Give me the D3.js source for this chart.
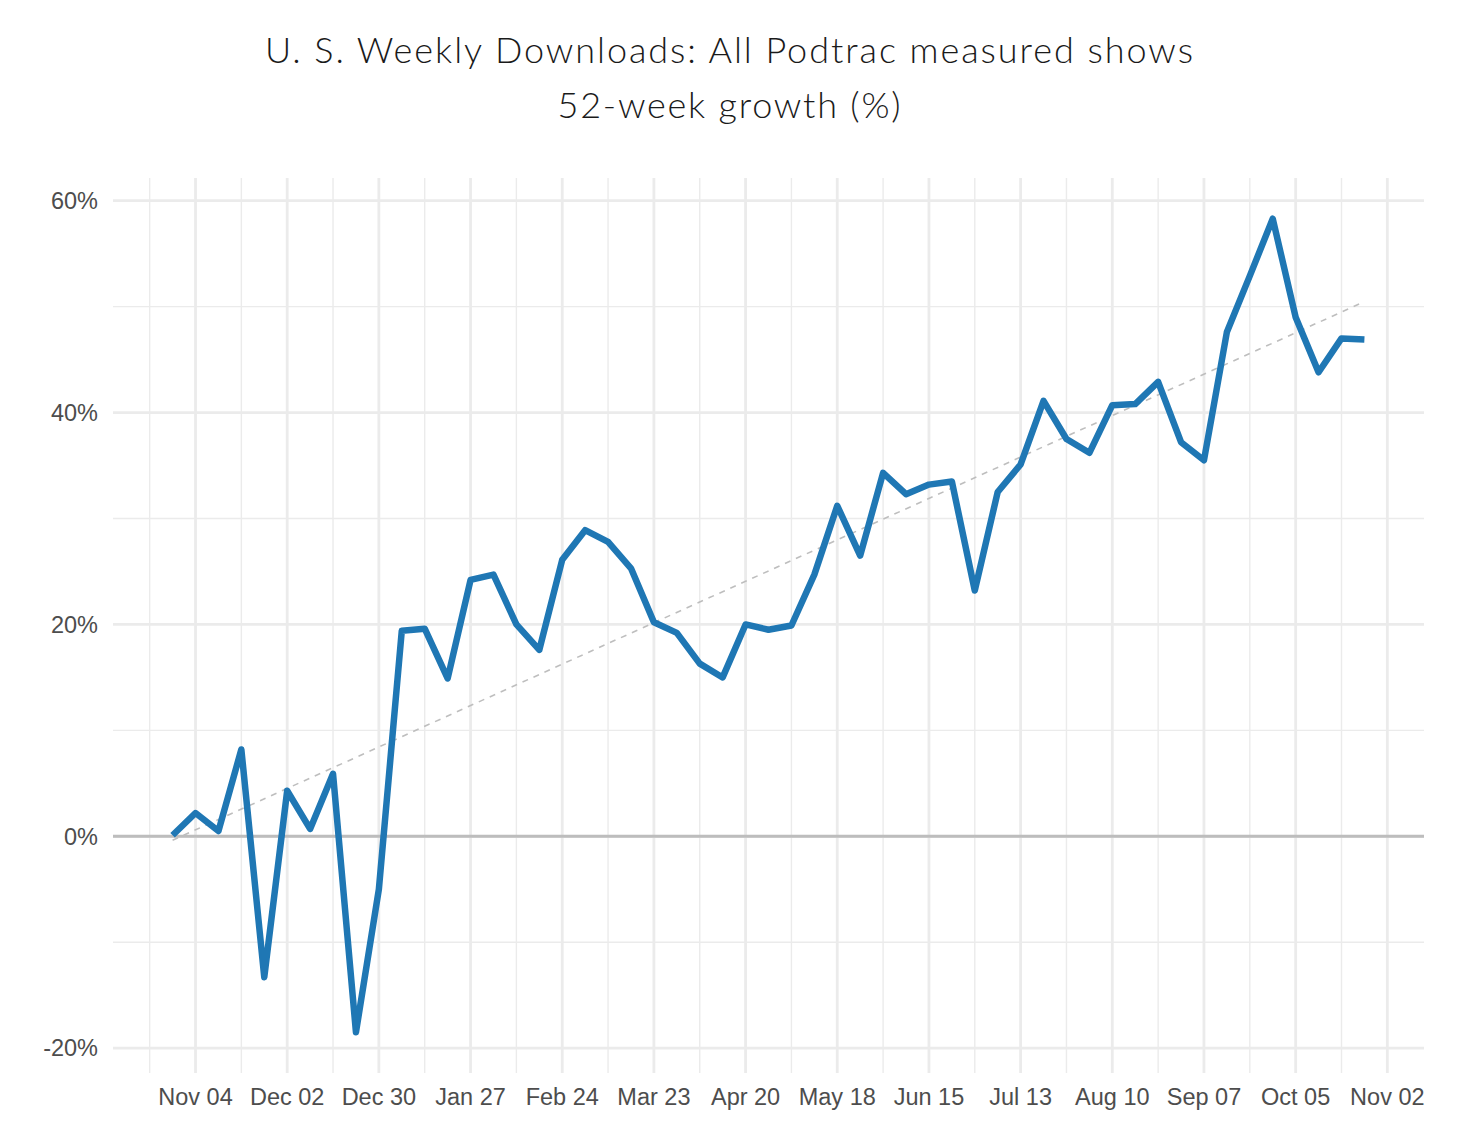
<!DOCTYPE html>
<html>
<head>
<meta charset="utf-8">
<script src="https://cdn.jsdelivr.net/npm/d3@7"></script>
<style>
  html, body { margin: 0; padding: 0; background: #fff; }
  svg { display: block; }
</style>
</head>
<body>
<svg id="chart" width="1458" height="1143"></svg>
<script>
// ---- Data ----
const startDate = "2019-10-28";           // first weekly observation (Monday)
const growth = [0.1, 2.2, 0.5, 8.2, -13.3, 4.3, 0.7, 5.9, -18.5, -5.0,
                19.4, 19.6, 14.9, 24.2, 24.7, 20.0, 17.6, 26.1, 28.9, 27.8,
                25.3, 20.2, 19.2, 16.3, 15.0, 20.0, 19.5, 19.9, 24.7, 31.2,
                26.5, 34.3, 32.3, 33.2, 33.5, 23.2, 32.5, 35.1, 41.1, 37.5,
                36.2, 40.7, 40.8, 42.9, 37.2, 35.5, 47.6, 52.9, 58.3, 49.0,
                43.8, 47.0, 46.9];
const xTickLabels = ["Nov 04", "Dec 02", "Dec 30", "Jan 27", "Feb 24", "Mar 23", "Apr 20",
                     "May 18", "Jun 15", "Jul 13", "Aug 10", "Sep 07", "Oct 05", "Nov 02"];
const xTickDates = ["2019-11-04", "2019-12-02", "2019-12-30", "2020-01-27", "2020-02-24", "2020-03-23",
                    "2020-04-20", "2020-05-18", "2020-06-15", "2020-07-13", "2020-08-10", "2020-09-07",
                    "2020-10-05", "2020-11-02"];
const yTicks = [-20, 0, 20, 40, 60];
const yMinorTicks = [-10, 10, 30, 50];
const titleLines = ["U. S. Weekly Downloads: All Podtrac measured shows", "52-week growth (%)"];
const titleWidths = [928, 343];

// ---- Build ----
const parse = d3.utcParse("%Y-%m-%d");
const t0 = parse(startDate);
const data = growth.map((v, i) => ({ date: d3.utcDay.offset(t0, i * 7), value: v }));

const svg = d3.select("#chart");
const panel = { left: 113, right: 1424, top: 178, bottom: 1073 };

const xExt = d3.extent(data, d => d.date);
const xPad = (xExt[1] - xExt[0]) * 0.05;
const x = d3.scaleUtc()
  .domain([new Date(+xExt[0] - xPad), new Date(+xExt[1] + xPad)])
  .range([panel.left, panel.right]);

const yExt = d3.extent(data, d => d.value);
const yPad = (yExt[1] - yExt[0]) * 0.05;
const y = d3.scaleLinear()
  .domain([yExt[0] - yPad, yExt[1] + yPad])
  .range([panel.bottom, panel.top]);

const majorDates = xTickDates.map(parse);
const minorDates = majorDates.map(d => d3.utcDay.offset(d, -14));

const grid = svg.append("g");
// minor grid
grid.selectAll(".vminor").data(minorDates).join("line")
  .attr("x1", d => x(d)).attr("x2", d => x(d))
  .attr("y1", panel.top).attr("y2", panel.bottom)
  .attr("stroke", "#ebebeb").attr("stroke-width", 1.4);
grid.selectAll(".hminor").data(yMinorTicks).join("line")
  .attr("x1", panel.left).attr("x2", panel.right)
  .attr("y1", d => y(d)).attr("y2", d => y(d))
  .attr("stroke", "#ebebeb").attr("stroke-width", 1.4);
// major grid
grid.selectAll(".vmajor").data(majorDates).join("line")
  .attr("x1", d => x(d)).attr("x2", d => x(d))
  .attr("y1", panel.top).attr("y2", panel.bottom)
  .attr("stroke", "#ebebeb").attr("stroke-width", 2.8);
grid.selectAll(".hmajor").data(yTicks).join("line")
  .attr("x1", panel.left).attr("x2", panel.right)
  .attr("y1", d => y(d)).attr("y2", d => y(d))
  .attr("stroke", "#ebebeb").attr("stroke-width", 2.8);

// zero line
svg.append("line")
  .attr("x1", panel.left).attr("x2", panel.right)
  .attr("y1", y(0)).attr("y2", y(0))
  .attr("stroke", "#bdbdbd").attr("stroke-width", 3);

// linear trend (least squares on the series)
const n = data.length;
const xs = data.map((d, i) => i), ys = data.map(d => d.value);
const mx = d3.mean(xs), my = d3.mean(ys);
const slope = d3.sum(xs.map((v, i) => (v - mx) * (ys[i] - my))) / d3.sum(xs.map(v => (v - mx) ** 2));
const icpt = my - slope * mx;
const trend = [{ date: data[0].date, value: icpt }, { date: data[n - 1].date, value: icpt + slope * (n - 1) }];
svg.append("path")
  .datum(trend)
  .attr("d", d3.line().x(d => x(d.date)).y(d => y(d.value)))
  .attr("fill", "none")
  .attr("stroke", "#bebebe")
  .attr("stroke-width", 1.6)
  .attr("stroke-dasharray", "6,6");

// main line
svg.append("path")
  .datum(data)
  .attr("d", d3.line().x(d => x(d.date)).y(d => y(d.value)))
  .attr("fill", "none")
  .attr("stroke", "#1f77b4")
  .attr("stroke-width", 6.5)
  .attr("stroke-linejoin", "round")
  .attr("stroke-linecap", "butt");

// axes labels
const axisFont = "'Liberation Sans', Arial, sans-serif";
svg.append("g").selectAll("text").data(yTicks).join("text")
  .attr("x", 98).attr("y", d => y(d))
  .attr("dy", "0.35em")
  .attr("text-anchor", "end")
  .attr("font-family", axisFont).attr("font-size", 23.5)
  .attr("fill", "#4d4d4d")
  .text(d => d + "%");

svg.append("g").selectAll("text").data(majorDates).join("text")
  .attr("x", d => x(d)).attr("y", 1105)
  .attr("text-anchor", "middle")
  .attr("font-family", axisFont).attr("font-size", 23.5)
  .attr("fill", "#4d4d4d")
  .text((d, i) => xTickLabels[i]);

// title
svg.append("g").selectAll("text").data(titleLines).join("text")
  .attr("x", 729).attr("y", (d, i) => 63 + i * 55)
  .attr("text-anchor", "middle")
  .attr("font-family", "Lato, 'Open Sans', sans-serif")
  .attr("font-weight", 300)
  .attr("font-size", 36)
  .attr("textLength", (d, i) => titleWidths[i])
  .attr("lengthAdjust", "spacing")
  .attr("fill", "#1a1a1a")
  .text(d => d);
</script>
</body>
</html>
